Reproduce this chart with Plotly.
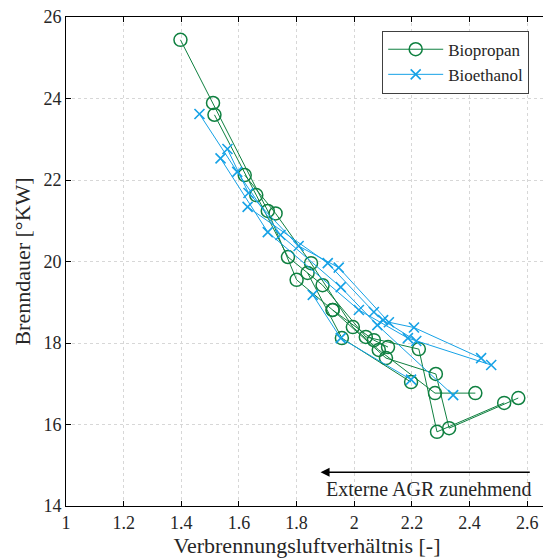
import plotly.graph_objects as go

# Biopropan sweeps (None separates individual EGR sweeps)
propan_lambda = [2.569, 2.329, 2.283, 2.11, 1.925, 1.80, 1.70, 1.51, 1.397, None,
                 2.52, 2.287, 2.224, 2.04, 1.89, 1.77, 1.66, 1.515, None,
                 2.42, 2.28, 2.085, 1.995, 1.85, 1.727, 1.62, None,
                 2.197, 1.957, 1.838, None,
                 2.117, 2.068, 1.925]
propan_burn = [16.65, 15.91, 17.24, 17.63, 18.81, 19.55, 21.24, 23.89, 25.44, None,
               16.53, 15.82, 17.85, 18.15, 19.42, 20.11, 21.63, 23.60, None,
               16.77, 16.77, 17.83, 18.39, 19.96, 21.18, 22.12, None,
               17.04, 18.12, 19.72, None,
               17.90, 18.07, 18.81]

# Bioethanol sweeps
ethanol_lambda = [2.475, 2.186, 2.016, 1.70, 1.536, None,
                  2.44, 2.207, 2.12, 1.946, 1.807, 1.633, 1.56, None,
                  2.343, 2.08, 1.953, 1.744, 1.594, 1.463, None,
                  2.215, 2.10, 2.068, 1.908, 1.63, None,
                  2.197, 1.953, 1.856]
ethanol_burn = [17.46, 18.12, 18.81, 20.72, 22.53, None,
                17.63, 18.38, 18.51, 19.85, 20.38, 21.68, 22.76, None,
                16.72, 18.44, 19.37, 20.65, 22.20, 23.62, None,
                18.05, 18.56, 18.76, 19.96, 21.34, None,
                17.10, 18.12, 19.18]

x_ticks = [1, 1.2, 1.4, 1.6, 1.8, 2, 2.2, 2.4, 2.6]
x_ticklabels = ["1", "1.2", "1.4", "1.6", "1.8", "2", "2.2", "2.4", "2.6"]
y_ticks = [14, 16, 18, 20, 22, 24, 26]

GREEN = "#0f8040"
BLUE = "#16a2e6"
FONT = "Liberation Serif"
TXT = "#262626"

fig = go.Figure()
fig.add_trace(go.Scatter(
    x=propan_lambda, y=propan_burn, mode="lines+markers", name="Biopropan",
    connectgaps=False,
    line=dict(color=GREEN, width=1),
    marker=dict(symbol="circle-open", size=13, color=GREEN, line=dict(width=1.5)),
))
fig.add_trace(go.Scatter(
    x=ethanol_lambda, y=ethanol_burn, mode="lines+markers", name="Bioethanol",
    connectgaps=False,
    line=dict(color=BLUE, width=1),
    marker=dict(symbol="x-thin-open", size=10, color=BLUE, line=dict(width=1.6, color=BLUE)),
))

axis_common = dict(
    showline=True, linecolor="black", linewidth=1, mirror="allticks",
    ticks="inside", ticklen=5, tickcolor="black", tickwidth=1,
    showgrid=True, gridcolor="rgb(215,215,215)", griddash="dot", gridwidth=1,
    zeroline=False, tickfont=dict(family=FONT, size=18, color=TXT),
    ticklabeloverflow="allow",
)
fig.update_xaxes(range=[1, 2.672], tickvals=x_ticks, ticktext=x_ticklabels,
                 title=dict(text="Verbrennungsluftverhältnis [-]", standoff=1,
                            font=dict(family=FONT, size=22, color=TXT)),
                 **axis_common)
fig.update_yaxes(range=[14, 26], tickvals=y_ticks,
                 title=dict(text="Brenndauer [°KW]", standoff=6,
                            font=dict(family=FONT, size=22, color=TXT)),
                 **axis_common)

fig.add_annotation(x=1.883, y=14.83, ax=2.614, ay=14.83, xref="x", yref="y",
                   axref="x", ayref="y", showarrow=True, arrowhead=2,
                   arrowsize=1.2, arrowwidth=1.5, arrowcolor="black", text="")
fig.add_annotation(x=2.625, y=14.42, xref="x", yref="y", showarrow=False,
                   text="Externe AGR zunehmend", xanchor="right",
                   font=dict(family=FONT, size=20, color=TXT))

fig.update_layout(
    width=543, height=551,
    margin=dict(l=58, r=3, t=9, b=53, autoexpand=False),
    paper_bgcolor="white", plot_bgcolor="white",
    showlegend=True,
    legend=dict(x=0.656, y=0.972, xanchor="left", yanchor="top",
                bgcolor="white", bordercolor="#404040", borderwidth=1,
                font=dict(family=FONT, size=17, color=TXT),
                itemwidth=55, tracegroupgap=0),
)

fig.write_html("out.html")
